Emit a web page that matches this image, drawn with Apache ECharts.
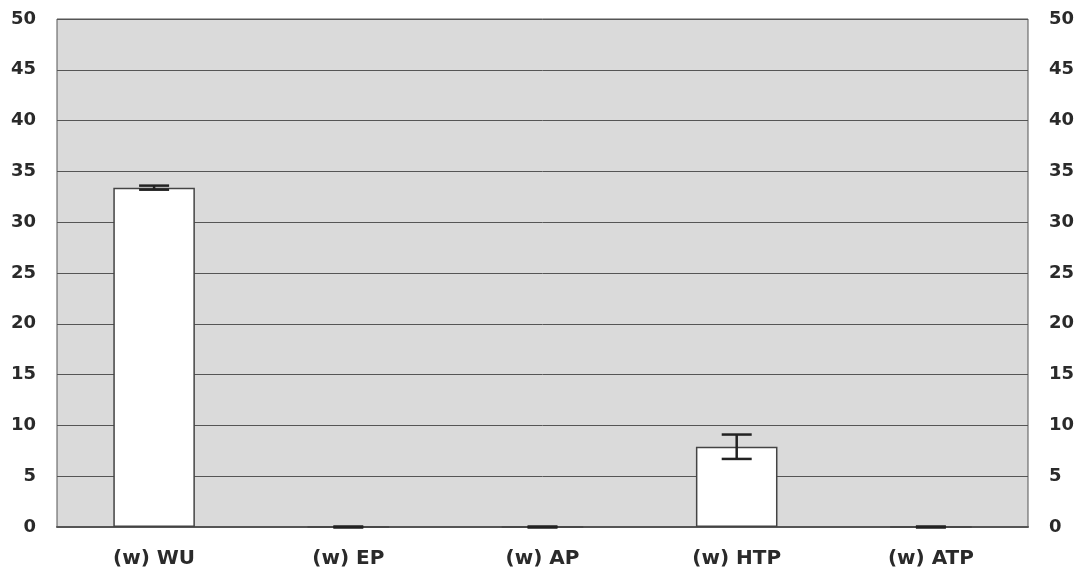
<!DOCTYPE html>
<html><head><meta charset="utf-8">
<script src="https://cdn.jsdelivr.net/npm/echarts@6/dist/echarts.min.js"></script>
<style>html,body{margin:0;padding:0;background:#fff}#c{width:1082px;height:582px}</style>
</head><body><div id="c"></div>
<script>
const categories = ['(w) WU', '(w) EP', '(w) AP', '(w) HTP', '(w) ATP'];
const values = [33.4, 0, 0, 7.9, 0];
const errors = [0.2, 0.05, 0.05, 1.2, 0.05];
const yTicks = [0, 5, 10, 15, 20, 25, 30, 35, 40, 45, 50];

const chart = echarts.init(document.getElementById('c'));
const errData = values.map((v, i) => [i, v - errors[i], v + errors[i]]);
const labelStyle = {color: '#2a2a2a', fontFamily: 'DejaVu Sans', fontWeight: 'bold', fontSize: 18};
chart.setOption({
  animation: false,
  grid: {left: 57, right: 54, top: 19, bottom: 55, show: true, backgroundColor: '#dadada', borderColor: '#555', borderWidth: 1},
  xAxis: {type: 'category', data: categories,
    axisLine: {lineStyle: {color: '#555', width: 2}},
    axisTick: {inside: true, length: 4, lineStyle: {color: '#888'}},
    axisLabel: Object.assign({}, labelStyle, {margin: 22, fontSize: 20})},
  yAxis: [
    {type: 'value', min: yTicks[0], max: yTicks[yTicks.length-1], interval: 5,
     axisLine: {show: false}, axisTick: {show: false},
     splitLine: {lineStyle: {color: '#555', width: 1}},
     axisLabel: Object.assign({margin: 21}, labelStyle)},
    {type: 'value', min: yTicks[0], max: yTicks[yTicks.length-1], interval: 5, position: 'right',
     axisLine: {show: false}, axisTick: {show: false}, splitLine: {show: false},
     axisLabel: Object.assign({margin: 21, align: 'left'}, labelStyle)}
  ],
  series: [
    {type: 'bar', data: values, barWidth: '42%',
     itemStyle: {color: '#ffffff', borderColor: '#444', borderWidth: 1.5}},
    {type: 'custom', data: errData, z: 10,
     renderItem: function (params, api) {
       const x = api.value(0);
       const lo = api.coord([x, api.value(1)]);
       const hi = api.coord([x, api.value(2)]);
       const hw = 15;
       const st = {stroke: '#222', lineWidth: 2.5};
       return {type: 'group', children: [
         {type: 'line', shape: {x1: lo[0], y1: lo[1], x2: hi[0], y2: hi[1]}, style: st},
         {type: 'line', shape: {x1: lo[0]-hw, y1: lo[1], x2: lo[0]+hw, y2: lo[1]}, style: st},
         {type: 'line', shape: {x1: hi[0]-hw, y1: hi[1], x2: hi[0]+hw, y2: hi[1]}, style: st}
       ]};
     }}
  ]
});
</script></body></html>
